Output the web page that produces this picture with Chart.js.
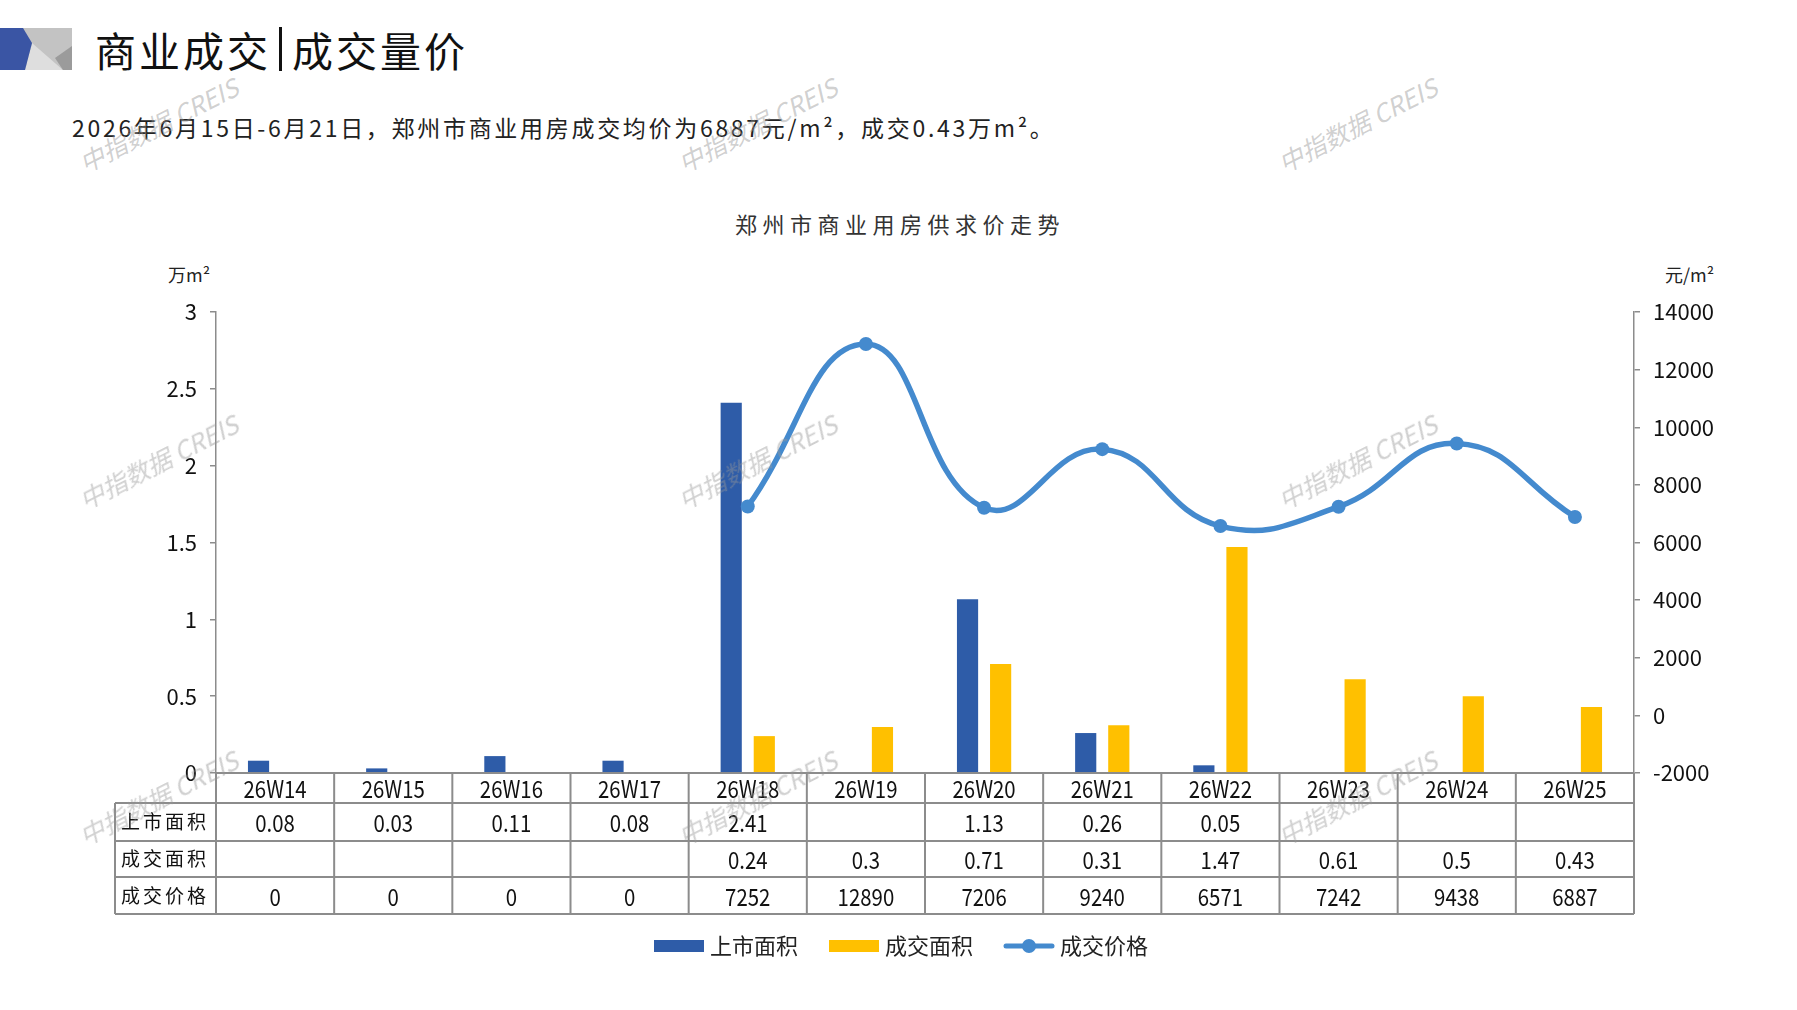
<!DOCTYPE html>
<html>
<head>
<meta charset="utf-8">
<script src="https://cdn.jsdelivr.net/npm/chart.js@4/dist/chart.umd.min.js"></script>
<style>
  body { margin: 0; background: #fff; font-family: "Noto Sans CJK SC", sans-serif; }
  #page { position: relative; width: 1797px; height: 1010px; overflow: hidden; background: #fff; }
  #logo { position: absolute; left: 0; top: 28px; }
  #title { position: absolute; left: 95px; top: 22px; height: 54px; display: flex; align-items: center;
    font-size: 41px; letter-spacing: 3px; color: #111; line-height: 54px; }
  #title .bar { display: inline-block; width: 3px; height: 44px; background: #111; margin: 0 10px 0 8px; }
  #subtitle { position: absolute; left: 72px; top: 111px; font-size: 23px; letter-spacing: 2.7px; color: #222; line-height: 32px; white-space: nowrap; }
  #chartTitle { position: absolute; left: 0; width: 1800px; top: 208px; text-align: center; font-size: 22px;
    letter-spacing: 5.5px; color: #333; line-height: 30px; }
  .unit { position: absolute; top: 261px; font-size: 18px; color: #222; line-height: 26px; }
  #chart { position: absolute; left: 0; top: 200px; }
  .wm { position: absolute; width: 240px; margin-left: -120px; margin-top: -17px; text-align: center;
    font-size: 25px; font-style: italic; color: rgba(150,150,150,0.45); transform: rotate(-27deg);
    white-space: nowrap; pointer-events: none; line-height: 34px; }
</style>
</head>
<body>
<div id="page">
  <svg id="logo" width="72" height="42" viewBox="0 0 72 42">
    <rect x="23" y="0" width="49" height="42" fill="#c3c3c3"/>
    <polygon points="32,15 25,42 63,42" fill="#dedede"/>
    <polygon points="72,18 55,30 63,42 72,42" fill="#9b9b9b"/>
    <polygon points="0,0 23,0 32,15 25,42 0,42" fill="#3a55a4"/>
  </svg>
  <div id="title"><span>商业成交</span><span class="bar"></span><span>成交量价</span></div>
  <div id="subtitle">2026年6月15日-6月21日，郑州市商业用房成交均价为6887元/m²，成交0.43万m²。</div>
  <div id="chartTitle">郑州市商业用房供求价走势</div>
  <div class="unit" style="left:168px">万m²</div>
  <div class="unit" style="left:1665px">元/m²</div>
  <canvas id="chart" width="1797" height="767"></canvas>
  <div class="wm" style="left:158px;top:124px">中指数据 CREIS</div>
  <div class="wm" style="left:757px;top:124px">中指数据 CREIS</div>
  <div class="wm" style="left:1357px;top:124px">中指数据 CREIS</div>
  <div class="wm" style="left:158px;top:461px">中指数据 CREIS</div>
  <div class="wm" style="left:757px;top:461px">中指数据 CREIS</div>
  <div class="wm" style="left:1357px;top:461px">中指数据 CREIS</div>
  <div class="wm" style="left:158px;top:797px">中指数据 CREIS</div>
  <div class="wm" style="left:757px;top:797px">中指数据 CREIS</div>
  <div class="wm" style="left:1357px;top:797px">中指数据 CREIS</div>
</div>
<script>
const weeks = ['26W14', '26W15', '26W16', '26W17', '26W18', '26W19', '26W20', '26W21', '26W22', '26W23', '26W24', '26W25']
const supplyArea = [0.08, 0.03, 0.11, 0.08, 2.41, null, 1.13, 0.26, 0.05, null, null, null]
const dealArea = [null, null, null, null, 0.24, 0.3, 0.71, 0.31, 1.47, 0.61, 0.5, 0.43]
const dealPrice = [0, 0, 0, 0, 7252, 12890, 7206, 9240, 6571, 7242, 9438, 6887]
const leftTicks = { min: 0, max: 3, step: 0.5 }
const rightTicks = { min: -2000, max: 14000, step: 2000 }
const rowNames = ['上市面积', '成交面积', '成交价格']

const BLUE = '#2e5ca8'
const YELLOW = '#ffc000'
const LINE = '#448ace'
const GREY = '#8c8c8c'
const NUM_FONT = '"Noto Sans CJK SC", sans-serif'
const CJK_FONT = '"Noto Sans CJK SC", sans-serif'

// price line only where there was a deal
const priceLine = dealPrice.map((v, i) => dealArea[i] == null ? null : v)

function makeIcon (w, h, draw) {
  const c = document.createElement('canvas')
  c.width = w
  c.height = h
  draw(c.getContext('2d'), w, h)
  return c
}

const legendIcons = [
  makeIcon(50, 12, (g, w, h) => { g.fillStyle = BLUE; g.fillRect(0, 0, w, h) }),
  makeIcon(50, 12, (g, w, h) => { g.fillStyle = YELLOW; g.fillRect(0, 0, w, h) }),
  makeIcon(52, 16, (g, w, h) => {
    g.strokeStyle = LINE
    g.lineWidth = 5
    g.lineCap = 'round'
    g.beginPath(); g.moveTo(3, h / 2); g.lineTo(w - 3, h / 2); g.stroke()
    g.fillStyle = LINE
    g.beginPath(); g.arc(w / 2, h / 2, 7, 0, Math.PI * 2); g.fill()
  })
]

// condensed text, like the narrow digits of the source
function narrowText (ctx, text, x, y, sx) {
  ctx.save()
  ctx.translate(x, y)
  ctx.scale(sx, 1)
  ctx.fillText(text, 0, 0)
  ctx.restore()
}

// Data table under the plot, columns taken from the x scale
const tablePlugin = {
  id: 'dataTable',
  afterDraw (chart) {
    const { ctx, chartArea, scales: { x } } = chart
    const half = (x.getPixelForValue(1) - x.getPixelForValue(0)) / 2
    const labelLeft = 115
    const heights = [30, 38, 36, 37]
    const ys = [chartArea.bottom]
    heights.forEach(h => ys.push(ys[ys.length - 1] + h))
    const right = x.getPixelForValue(weeks.length - 1) + half

    ctx.save()
    ctx.strokeStyle = GREY
    ctx.lineWidth = 2
    ctx.beginPath()
    ctx.moveTo(chartArea.left, ys[0]); ctx.lineTo(right, ys[0])
    for (let r = 1; r < ys.length; r++) {
      ctx.moveTo(labelLeft, ys[r]); ctx.lineTo(right, ys[r])
    }
    ctx.moveTo(labelLeft, ys[1]); ctx.lineTo(labelLeft, ys[4])
    for (let i = 0; i <= weeks.length; i++) {
      const xx = i < weeks.length ? x.getPixelForValue(i) - half : right
      ctx.moveTo(xx, ys[0]); ctx.lineTo(xx, ys[4])
    }
    ctx.stroke()

    ctx.fillStyle = '#111'
    ctx.textBaseline = 'middle'
    ctx.textAlign = 'center'
    ctx.font = '24px ' + NUM_FONT
    const rows = [supplyArea, dealArea, dealPrice]
    weeks.forEach((w, i) => {
      const cx = x.getPixelForValue(i)
      narrowText(ctx, w, cx, (ys[0] + ys[1]) / 2 + 1, 0.85)
      rows.forEach((row, r) => {
        if (row[i] != null) narrowText(ctx, String(row[i]), cx, (ys[r + 1] + ys[r + 2]) / 2 + 1, 0.85)
      })
    })
    ctx.textAlign = 'left'
    ctx.font = '19px ' + CJK_FONT
    ctx.letterSpacing = '3px'
    rowNames.forEach((name, r) => {
      ctx.fillText(name, 121, (ys[r + 1] + ys[r + 2]) / 2)
    })
    ctx.restore()
  }
}

const axisCommon = {
  border: { display: true, color: GREY, width: 1.5 },
  grid: { display: true, drawOnChartArea: false, drawTicks: true, tickLength: 6, color: GREY, lineWidth: 1.5 },
  ticks: { padding: 13, color: '#111', font: { family: NUM_FONT, size: 22 }, callback: v => String(v) }
}

new Chart(document.getElementById('chart'), {
  type: 'bar',
  data: {
    labels: weeks,
    datasets: [{
      label: '上市面积',
      data: supplyArea,
      backgroundColor: BLUE,
      yAxisID: 'y',
      order: 2,
      categoryPercentage: 0.56,
      barPercentage: 0.64
    }, {
      label: '成交面积',
      data: dealArea,
      backgroundColor: YELLOW,
      yAxisID: 'y',
      order: 2,
      categoryPercentage: 0.56,
      barPercentage: 0.64
    }, {
      type: 'line',
      label: '成交价格',
      data: priceLine,
      yAxisID: 'y1',
      order: 1,
      borderColor: LINE,
      backgroundColor: LINE,
      borderWidth: 5.5,
      borderCapStyle: 'round',
      tension: 0.45,
      fill: false,
      pointRadius: 7,
      pointBorderWidth: 0,
      pointBackgroundColor: LINE
    }]
  },
  options: {
    responsive: false,
    animation: false,
    devicePixelRatio: 1,
    layout: { padding: { left: 10, right: 0, top: 112, bottom: 0 } },
    scales: {
      x: {
        offset: true,
        border: { display: false },
        grid: { display: false },
        ticks: { display: false },
        afterFit: scale => { scale.height = 126 }
      },
      y: {
        ...axisCommon,
        position: 'left',
        min: leftTicks.min,
        max: leftTicks.max,
        ticks: { ...axisCommon.ticks, stepSize: leftTicks.step },
        afterFit: scale => { scale.width = 206 }
      },
      y1: {
        ...axisCommon,
        position: 'right',
        min: rightTicks.min,
        max: rightTicks.max,
        ticks: { ...axisCommon.ticks, stepSize: rightTicks.step },
        afterFit: scale => { scale.width = 163 }
      }
    },
    plugins: {
      tooltip: { enabled: false },
      legend: {
        position: 'bottom',
        labels: {
          usePointStyle: true,
          pointStyleWidth: 40,
          padding: 36,
          color: '#222',
          font: { family: CJK_FONT, size: 22 },
          generateLabels: chart => chart.data.datasets.map((ds, i) => ({
            text: ds.label,
            pointStyle: legendIcons[i],
            datasetIndex: i,
            fontColor: '#222',
            lineWidth: 0,
            strokeStyle: 'rgba(0,0,0,0)',
            hidden: false
          }))
        }
      }
    }
  },
  plugins: [tablePlugin]
})
</script>
</body>
</html>
